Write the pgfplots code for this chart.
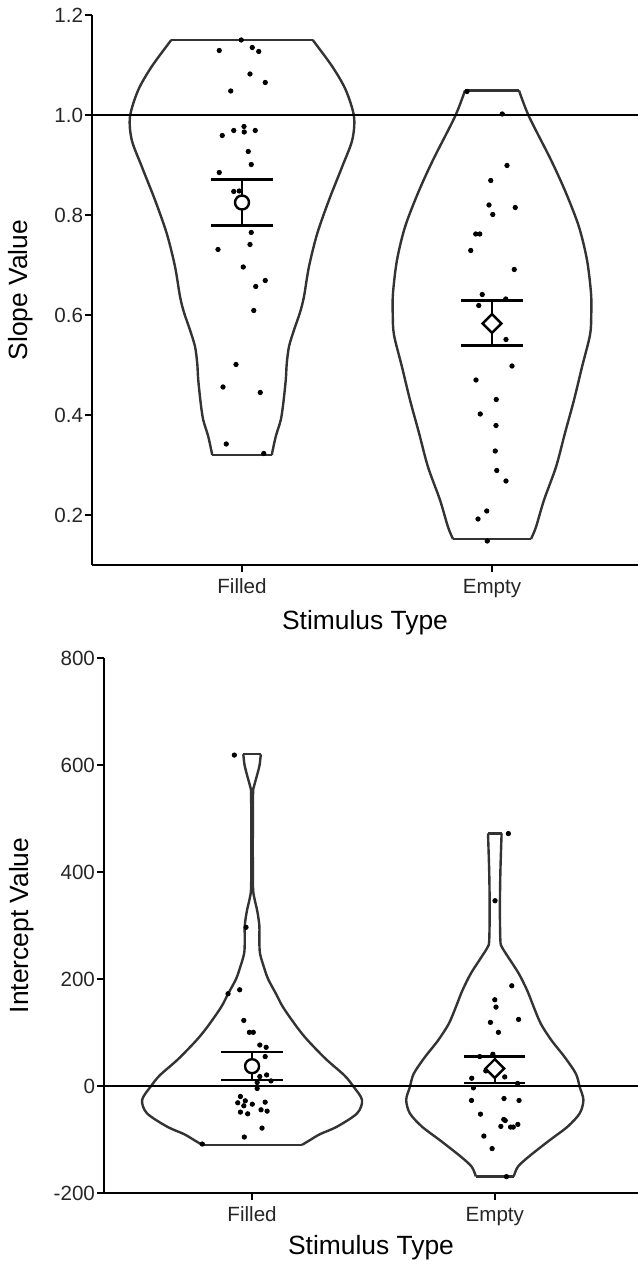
\documentclass[border=0pt]{standalone}
\usepackage{fontspec}
\setmainfont{Liberation Sans}
\usepackage{pgfplots}
\pgfplotsset{compat=1.18}
\usepackage{pgfplotstable}

\definecolor{violinline}{HTML}{333333}
\definecolor{ticktext}{HTML}{262626}

% violin outlines: value, half width (x units)
\pgfplotstableread{
y w
0.320 0.119
0.357 0.135
0.390 0.155
0.423 0.165
0.470 0.175
0.503 0.179
0.537 0.188
0.570 0.208
0.605 0.232
0.637 0.248
0.697 0.268
0.763 0.301
0.830 0.348
0.897 0.401
0.950 0.441
0.997 0.448
1.050 0.415
1.097 0.361
1.150 0.283
}\slopeFilled

\pgfplotstableread{
y w
0.152 0.156
0.176 0.176
0.230 0.208
0.296 0.256
0.364 0.292
0.430 0.328
0.496 0.360
0.560 0.392
0.600 0.397
0.644 0.396
0.710 0.380
0.776 0.348
0.844 0.296
0.910 0.236
0.997 0.148
1.049 0.108
}\slopeEmpty

\pgfplotstableread{
y w
-110 0.206
-101 0.239
-90 0.280
-76 0.350
-51 0.433
-26 0.453
0 0.416
20 0.380
50 0.305
85 0.230
110 0.185
147 0.128
172 0.099
200 0.066
222 0.049
247 0.033
270 0.030
300 0.030
328 0.021
350 0.010
371 0.004
450 0.003
545 0.004
560 0.008
580 0.020
600 0.031
620 0.036
}\interFilled

\pgfplotstableread{
y w
-169 0.078
-151 0.095
-132 0.140
-101 0.227
-76 0.300
-51 0.350
-26 0.365
-2 0.350
23 0.334
54 0.288
85 0.234
116 0.190
147 0.161
178 0.134
210 0.099
241 0.055
260 0.029
272 0.023
330 0.021
400 0.023
472 0.028
}\interEmpty

\pgfplotsset{
  vplot/.style={
    scale only axis,
    axis lines*=left,
    tick align=outside,
    major tick length=3.5bp,
    axis line style={line width=1.2bp, black},
    tick style={line width=1.2bp, black},
    xtick={1,2}, xticklabels={Filled,Empty},
    xlabel={Stimulus Type},
    tick label style={font=\fontsize{10.3bp}{12bp}\selectfont, text=ticktext},
    yticklabel style={xshift=2.5bp},
    label style={font=\fontsize{13.2bp}{15bp}\selectfont},
    /pgf/number format/assume math mode=true,
  },
  violin/.style={violinline, line width=1.2bp, smooth, tension=0.5, no markers},
  jitter/.style={only marks, mark=*, mark size=1.1bp, black},
  ebar/.style={black, line width=1.2bp, no markers},
  meancirc/.style={only marks, mark=*, mark size=3.5bp,
    mark options={fill=white, draw=black, line width=1.2bp}},
  meandiam/.style={only marks, mark=square*, mark size=3.3bp,
    mark options={rotate=45, fill=white, draw=black, line width=1.2bp}},
}

\begin{document}
\begin{tikzpicture}
\useasboundingbox (0,0) rectangle (319bp,630.5bp);

% slope panel
\begin{axis}[vplot,
  at={(46bp,348bp)}, anchor=south west,
  width=273bp, height=275bp,
  xmin=0.4, xmax=2.584, ymin=0.1, ymax=1.2,
  ytick={0.2,0.4,0.6,0.8,1.0,1.2},
  yticklabel style={/pgf/number format/.cd, fixed, fixed zerofill, precision=1},
  ylabel={Slope Value},
  ylabel style={at={(axis description cs:-0.13,0.5)}, anchor=center},
  xlabel style={at={(axis description cs:0.5,-0.105)}, anchor=center},
]
\addplot[violin] table[x expr=1+\thisrow{w}, y=y] {\slopeFilled};
\addplot[violin] table[x expr=1-\thisrow{w}, y=y] {\slopeFilled};
\addplot[violin, sharp plot] coordinates {(0.717,1.150) (1.283,1.150)};
\addplot[violin, sharp plot] coordinates {(0.881,0.320) (1.119,0.320)};
\addplot[violin] table[x expr=2+\thisrow{w}, y=y] {\slopeEmpty};
\addplot[violin] table[x expr=2-\thisrow{w}, y=y] {\slopeEmpty};
\addplot[violin, sharp plot] coordinates {(1.892,1.049) (2.108,1.049)};
\addplot[violin, sharp plot] coordinates {(1.844,0.152) (2.156,0.152)};

\addplot[ebar] coordinates {(0,1) (3,1)};

\addplot[jitter] coordinates {
(0.997,1.150) (0.909,1.129) (1.041,1.135) (1.067,1.127) (1.032,1.082)
(1.093,1.065) (0.955,1.048) (1.008,0.977) (0.967,0.969) (1.009,0.966)
(1.053,0.969) (0.921,0.959) (1.025,0.927) (1.037,0.901) (0.909,0.885)
(0.967,0.847) (0.989,0.848) (1.037,0.765) (1.032,0.741) (0.904,0.731)
(1.005,0.696) (1.093,0.669) (1.055,0.657) (1.047,0.609) (0.976,0.501)
(0.924,0.456) (1.073,0.445) (0.937,0.342) (1.087,0.323)
};
\addplot[jitter] coordinates {
(1.900,1.047) (2.041,1.002) (2.060,0.899) (1.995,0.869) (1.988,0.820)
(2.093,0.815) (2.003,0.801) (1.935,0.762) (1.951,0.762) (1.915,0.729)
(2.089,0.691) (1.961,0.641) (2.055,0.632) (1.947,0.619) (2.056,0.551)
(2.080,0.498) (1.936,0.470) (2.017,0.431) (1.953,0.402) (2.016,0.379)
(2.013,0.328) (2.019,0.289) (2.056,0.268) (1.979,0.208) (1.944,0.192)
(1.981,0.148)
};

% mean +/- SE
\addplot[ebar] coordinates {(1,0.779) (1,0.871)};
\addplot[ebar] coordinates {(0.877,0.871) (1.123,0.871)};
\addplot[ebar] coordinates {(0.877,0.779) (1.123,0.779)};
\addplot[meancirc] coordinates {(1,0.825)};
\addplot[ebar] coordinates {(2,0.539) (2,0.629)};
\addplot[ebar] coordinates {(1.877,0.629) (2.123,0.629)};
\addplot[ebar] coordinates {(1.877,0.539) (2.123,0.539)};
\addplot[meandiam] coordinates {(2,0.583)};
\end{axis}

% intercept panel
\begin{axis}[vplot,
  at={(52bp,34bp)}, anchor=south west,
  width=267bp, height=267.5bp,
  xmin=0.39, xmax=2.59, ymin=-200, ymax=800,
  ytick={-200,0,200,400,600,800},
  ylabel={Intercept Value},
  ylabel style={at={(axis description cs:-0.155,0.5)}, anchor=center},
  xlabel style={at={(axis description cs:0.5,-0.102)}, anchor=center},
]
\addplot[violin] table[x expr=1+\thisrow{w}, y=y] {\interFilled};
\addplot[violin] table[x expr=1-\thisrow{w}, y=y] {\interFilled};
\addplot[violin, sharp plot] coordinates {(0.964,620) (1.036,620)};
\addplot[violin, sharp plot] coordinates {(0.794,-110) (1.206,-110)};
\addplot[violin] table[x expr=2+\thisrow{w}, y=y] {\interEmpty};
\addplot[violin] table[x expr=2-\thisrow{w}, y=y] {\interEmpty};
\addplot[violin, sharp plot] coordinates {(1.972,472) (2.028,472)};
\addplot[violin, sharp plot] coordinates {(1.922,-169) (2.078,-169)};

\addplot[ebar] coordinates {(0,0) (3,0)};

\addplot[jitter] coordinates {
(0.927,618.5) (0.975,296.6) (0.949,179.8) (0.901,172.4) (0.966,122.6)
(0.989,100.3) (1.005,100.3) (1.032,76.6) (1.058,72.3) (1.054,55.0)
(1.060,20.7) (1.032,17.7) (1.078,9.5) (1.021,6.5) (1.021,-4.7)
(0.952,-19.6) (0.972,-27.7) (0.941,-31.4) (0.966,-37.0) (1.001,-34.0)
(1.054,-30.2) (0.952,-48.8) (0.982,-52.0) (1.037,-44.5) (1.062,-47.0)
(1.041,-78.7) (0.968,-95.4) (0.795,-108.5)
};
\addplot[jitter] coordinates {
(2.056,471.8) (2.001,346.3) (2.070,187.3) (2.000,161.2) (2.005,147.5)
(1.982,118.9) (2.098,124.5) (2.015,100.3) (1.992,59.3) (1.938,55.0)
(1.963,28.2) (1.905,14.5) (2.041,17.0) (1.912,-3.5) (2.094,4.7)
(1.904,-27.0) (2.038,-23.4) (2.100,-27.0) (1.941,-52.6) (2.037,-62.5)
(2.043,-64.5) (2.025,-75.5) (2.065,-76.8) (2.076,-76.8) (2.095,-71.8)
(1.955,-93.6) (1.989,-117.0) (2.048,-169.4)
};

\addplot[ebar] coordinates {(1,11.4) (1,63.6)};
\addplot[ebar] coordinates {(0.874,63.6) (1.126,63.6)};
\addplot[ebar] coordinates {(0.874,11.4) (1.126,11.4)};
\addplot[meancirc] coordinates {(1,37)};
\addplot[ebar] coordinates {(2,5.8) (2,55.5)};
\addplot[ebar] coordinates {(1.875,55.5) (2.125,55.5)};
\addplot[ebar] coordinates {(1.875,5.8) (2.125,5.8)};
\addplot[meandiam] coordinates {(2,32.6)};
\end{axis}
\end{tikzpicture}
\end{document}
